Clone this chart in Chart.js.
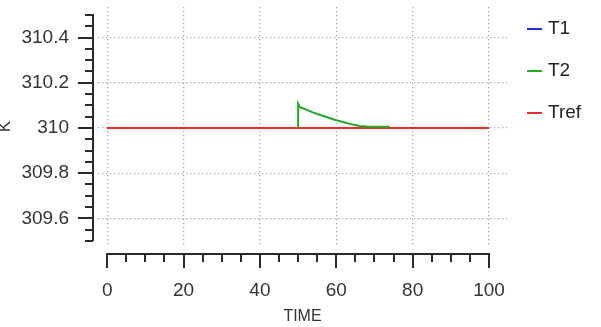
<!DOCTYPE html>
<html>
<head>
<meta charset="utf-8">
<script src="https://cdn.jsdelivr.net/npm/chart.js@4"></script>
<style>
  body { margin: 0; background: #fff; }
  #wrap { position: relative; width: 601px; height: 327px; }
  #legend { position: absolute; left: 527px; top: 0; font: 19px "Liberation Sans", Arial, sans-serif; color: #222; }
  #legend .item { position: absolute; left: 0; white-space: nowrap; height: 24px; line-height: 24px; }
  #legend .item i { display: inline-block; width: 15px; height: 2px; vertical-align: middle; margin-right: 6px; }
</style>
</head>
<body>
<div id="wrap">
  <canvas id="plot" width="601" height="327"></canvas>
  <div id="legend"></div>
</div>
<script>
// series
var seriesNames = ['T1', 'T2', 'Tref'];
var seriesColors = ['#2a2ae0', '#22aa22', '#ee2b2b'];

var t1Time = [0, 100];
var t1Values = [310, 310];

var t2Time = [50, 50, 50.5, 52, 54, 56, 58, 60, 62, 64, 66, 68, 70, 72, 74];
var t2Values = [310, 310.108, 310.092, 310.082, 310.068, 310.056, 310.045, 310.034,
                310.025, 310.016, 310.009, 310.006, 310.005, 310.005, 310.005];

var trefTime = [0, 100];
var trefValues = [310, 310];

// axes
var xTickLabels = ['0', '20', '40', '60', '80', '100'];
var yTickLabels = ['309.6', '309.8', '310', '310.2', '310.4'];
var xAxisRange = [0, 100];
var yAxisRange = [309.5, 310.5];

function points(ts, vs) {
  return ts.map(function(t, i) { return {x: t, y: vs[i]}; });
}

var tickFont = {family: '"Liberation Sans", Arial, sans-serif', size: 19};
var inkColor = '#333';

// axis lines sit away from the plot area, with major + minor ticks
var detachedAxes = {
  id: 'detachedAxes',
  afterDraw: function(chart) {
    var ctx = chart.ctx;
    var xs = chart.scales.x, ys = chart.scales.y;
    var x0 = xs.getPixelForValue(xAxisRange[0]), x1 = xs.getPixelForValue(xAxisRange[1]);
    var y0 = ys.getPixelForValue(yAxisRange[0]), y1 = ys.getPixelForValue(yAxisRange[1]);
    var axX = Math.round(x0) - 14, axY = Math.round(y0) + 13;
    ctx.save();
    ctx.strokeStyle = '#2a2a2a';
    ctx.lineWidth = 2;
    ctx.beginPath();
    ctx.moveTo(axX, y1 - 1); ctx.lineTo(axX, y0);
    for (var i = 0; i <= 20; i++) {
      var v = yAxisRange[0] + i * 0.05;
      var py = Math.round(ys.getPixelForValue(v));
      var major = i % 4 === 2;
      ctx.moveTo(axX, py); ctx.lineTo(axX - (major ? 15 : 8), py);
    }
    ctx.moveTo(x0 - 1, axY); ctx.lineTo(x1 + 1, axY);
    for (var j = 0; j <= 20; j++) {
      var px = Math.round(xs.getPixelForValue(xAxisRange[0] + j * 5));
      ctx.moveTo(px, axY); ctx.lineTo(px, axY + (j % 4 === 0 ? 14 : 8));
    }
    ctx.stroke();
    ctx.restore();
  }
};

function noEdgePadding(s) {
  s.paddingTop = 0; s.paddingBottom = 0;
  s.paddingLeft = 0; s.paddingRight = 0;
}

var orders = [2, 0, 1];
var times = [t1Time, t2Time, trefTime];
var values = [t1Values, t2Values, trefValues];

var chart = new Chart(document.getElementById('plot').getContext('2d'), {
  type: 'line',
  data: {
    datasets: seriesNames.map(function(name, i) {
      return {
        label: name,
        data: points(times[i], values[i]),
        borderColor: seriesColors[i],
        borderWidth: 2,
        pointRadius: 0,
        tension: 0,
        fill: false,
        order: orders[i]
      };
    })
  },
  plugins: [detachedAxes],
  options: {
    responsive: false,
    animation: false,
    layout: { padding: { top: 7, right: 94, left: 0, bottom: 0 } },
    plugins: { legend: { display: false }, tooltip: { enabled: false } },
    scales: {
      x: {
        type: 'linear',
        min: -2.4,
        max: 104.7,
        afterBuildTicks: function(s) { s.ticks = xTickLabels.map(function(l) { return {value: +l}; }); },
        afterFit: function(s) { s.height = 81; noEdgePadding(s); },
        ticks: {
          font: tickFont, color: inkColor, padding: 33, maxRotation: 0,
          callback: function(v, i) { return xTickLabels[i]; }
        },
        grid: { color: '#a9a9a9', lineWidth: 1.3, drawTicks: false },
        border: { display: false, dash: [1.3, 2.7] },
        title: {
          display: true, text: 'TIME', color: inkColor,
          font: {family: '"Liberation Sans", Arial, sans-serif', size: 16},
          padding: { top: 0, bottom: 1 }
        }
      },
      y: {
        type: 'linear',
        min: 309.478,
        max: 310.535,
        afterBuildTicks: function(s) { s.ticks = yTickLabels.map(function(l) { return {value: +l}; }); },
        afterFit: function(s) { s.width = 98; noEdgePadding(s); },
        ticks: {
          font: tickFont, color: inkColor, padding: 29,
          callback: function(v, i) { return yTickLabels[i]; }
        },
        grid: { color: '#a9a9a9', lineWidth: 1.3, drawTicks: false },
        border: { display: false, dash: [1.3, 2.7] },
        title: {
          display: true, text: 'K', color: inkColor,
          font: {family: '"Liberation Sans", Arial, sans-serif', size: 17},
          padding: { top: -5, bottom: 0 }
        }
      }
    }
  }
});

// legend on the right
var legendTops = [16, 58, 100];
var legend = document.getElementById('legend');
seriesNames.forEach(function(name, i) {
  var row = document.createElement('div');
  row.className = 'item';
  row.style.top = legendTops[i] + 'px';
  row.innerHTML = '<i style="background:' + seriesColors[i] + '"></i>' + name;
  legend.appendChild(row);
});
</script>
</body>
</html>
